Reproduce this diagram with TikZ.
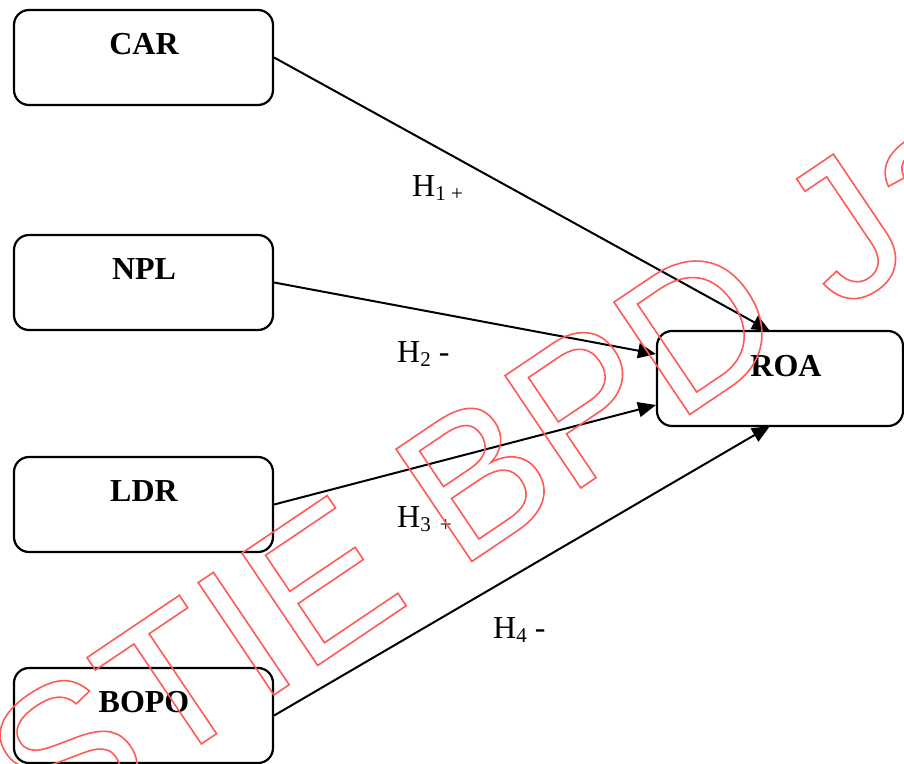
\documentclass[tikz,border=0pt]{standalone}
\usepackage{fontspec}
\setmainfont{Liberation Serif}
\newfontfamily\wmfont{Liberation Sans}
\usetikzlibrary{arrows.meta}
\definecolor{wmred}{RGB}{255,90,90}
\newcommand{\outlinetext}[1]{\special{pdf:literal direct 1 Tr 1.6 w}#1\special{pdf:literal direct 0 Tr}}
\newcommand{\hsub}[1]{\raisebox{-4pt}{\fontsize{21}{21}\selectfont #1}}
\tikzset{
  varbox/.style={draw, line width=2.2pt, rounded corners=15pt, inner sep=0pt},
  varlabel/.style={font=\fontsize{32}{32}\selectfont\bfseries, inner sep=0pt},
  hyp/.style={font=\fontsize{32}{32}\selectfont, inner sep=0pt, anchor=base west},
  link/.style={line width=2pt, -{Triangle[length=18pt,width=15pt]}}
}
\begin{document}
\begin{tikzpicture}[x=1pt,y=-1pt]
\useasboundingbox (0,0) rectangle (904,763);

% variable boxes
\node[varbox, minimum width=259pt, minimum height=95pt] (car)  at (143.5,57.5) {};
\node[varbox, minimum width=259pt, minimum height=95pt] (npl)  at (143.5,282.5) {};
\node[varbox, minimum width=259pt, minimum height=95pt] (ldr)  at (143.5,504.5) {};
\node[varbox, minimum width=259pt, minimum height=95pt] (bopo) at (143.5,715.5) {};
\node[varbox, minimum width=246pt, minimum height=95pt] (roa)  at (780,378.5) {};

\node[varlabel] (tcar)  at (144,44)  {CAR};
\node[varlabel] (tnpl)  at (144,269) {NPL};
\node[varlabel] (tldr)  at (144,491) {LDR};
\node[varlabel] (tbopo) at (144,702) {BOPO};
\node[varlabel] (troa)  at (786,366) {ROA};

% arrow end points on the ROA box
\coordinate (roaA) at (770,331);
\coordinate (roaB) at (656,354);
\coordinate (roaC) at (656,405);
\coordinate (roaD) at (770,426);

\draw[link] (car.east)  -- (roaA);
\draw[link] (npl.east)  -- (roaB);
\draw[link] (ldr.east)  -- (roaC);
\draw[link] (bopo.east) -- (roaD);

% hypothesis labels
\node[hyp] (h1) at (412,196) {H\hsub{1 +}};
\node[hyp] (h2) at (397,362) {H\hsub{2}\hspace{8pt}-};
\node[hyp] (h3) at (397,527) {H\hsub{3\hspace{9pt}+}};
\node[hyp] (h4) at (493,638) {H\hsub{4}\hspace{8pt}-};

% stamp
\node[anchor=base west, rotate=34, inner sep=0pt, text=wmred,
      font=\wmfont\fontsize{197}{197}\selectfont] (stamp) at (50,846)
      {\outlinetext{STIE BPD Jateng}};
\end{tikzpicture}
\end{document}
